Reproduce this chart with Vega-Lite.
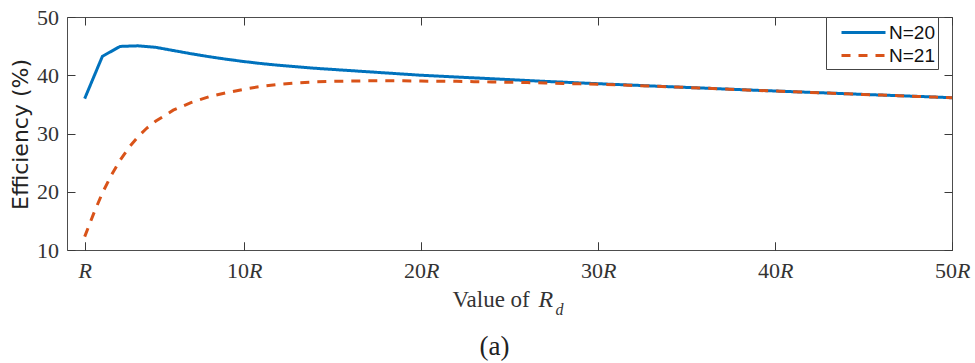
{
  "$schema": "https://vega.github.io/schema/vega-lite/v6.json",
  "width": 885,
  "height": 233,
  "autosize": "none",
  "padding": {"left": 67, "top": 17, "right": 23, "bottom": 113},
  "background": "white",
  "config": {
    "view": {"stroke": "#4d4d4d", "strokeWidth": 1},
    "axis": {"grid": false, "domain": false, "labelFlush": false, "labelOverlap": false, "labelBound": false, "tickColor": "#3a3a3a", "tickSize": -8, "tickWidth": 1}
  },
  "data": {"values": [
    {"x": 1, "series": "N=20", "eff": 36.0},
    {"x": 2, "series": "N=20", "eff": 43.25},
    {"x": 3, "series": "N=20", "eff": 44.95},
    {"x": 4, "series": "N=20", "eff": 45.05},
    {"x": 5, "series": "N=20", "eff": 44.8},
    {"x": 6, "series": "N=20", "eff": 44.25},
    {"x": 7, "series": "N=20", "eff": 43.7},
    {"x": 8, "series": "N=20", "eff": 43.2},
    {"x": 9, "series": "N=20", "eff": 42.75},
    {"x": 10, "series": "N=20", "eff": 42.35},
    {"x": 11, "series": "N=20", "eff": 42.0},
    {"x": 12, "series": "N=20", "eff": 41.7},
    {"x": 13, "series": "N=20", "eff": 41.45},
    {"x": 14, "series": "N=20", "eff": 41.2},
    {"x": 15, "series": "N=20", "eff": 41.0},
    {"x": 16, "series": "N=20", "eff": 40.8},
    {"x": 17, "series": "N=20", "eff": 40.6},
    {"x": 18, "series": "N=20", "eff": 40.4},
    {"x": 19, "series": "N=20", "eff": 40.2},
    {"x": 20, "series": "N=20", "eff": 40.0},
    {"x": 21, "series": "N=20", "eff": 39.85},
    {"x": 22, "series": "N=20", "eff": 39.7},
    {"x": 23, "series": "N=20", "eff": 39.55},
    {"x": 24, "series": "N=20", "eff": 39.4},
    {"x": 25, "series": "N=20", "eff": 39.25},
    {"x": 26, "series": "N=20", "eff": 39.1},
    {"x": 27, "series": "N=20", "eff": 38.95},
    {"x": 28, "series": "N=20", "eff": 38.82},
    {"x": 29, "series": "N=20", "eff": 38.68},
    {"x": 30, "series": "N=20", "eff": 38.55},
    {"x": 31, "series": "N=20", "eff": 38.42},
    {"x": 32, "series": "N=20", "eff": 38.3},
    {"x": 33, "series": "N=20", "eff": 38.16},
    {"x": 34, "series": "N=20", "eff": 38.04},
    {"x": 35, "series": "N=20", "eff": 37.91},
    {"x": 36, "series": "N=20", "eff": 37.79},
    {"x": 37, "series": "N=20", "eff": 37.66},
    {"x": 38, "series": "N=20", "eff": 37.54},
    {"x": 39, "series": "N=20", "eff": 37.41},
    {"x": 40, "series": "N=20", "eff": 37.3},
    {"x": 41, "series": "N=20", "eff": 37.18},
    {"x": 42, "series": "N=20", "eff": 37.06},
    {"x": 43, "series": "N=20", "eff": 36.95},
    {"x": 44, "series": "N=20", "eff": 36.83},
    {"x": 45, "series": "N=20", "eff": 36.71},
    {"x": 46, "series": "N=20", "eff": 36.6},
    {"x": 47, "series": "N=20", "eff": 36.49},
    {"x": 48, "series": "N=20", "eff": 36.38},
    {"x": 49, "series": "N=20", "eff": 36.26},
    {"x": 50, "series": "N=20", "eff": 36.14},
    {"x": 1, "series": "N=21", "eff": 12.3},
    {"x": 1.5, "series": "N=21", "eff": 16.2},
    {"x": 2, "series": "N=21", "eff": 19.8},
    {"x": 2.5, "series": "N=21", "eff": 22.8},
    {"x": 3, "series": "N=21", "eff": 25.4},
    {"x": 3.5, "series": "N=21", "eff": 27.6},
    {"x": 4, "series": "N=21", "eff": 29.4},
    {"x": 4.5, "series": "N=21", "eff": 30.9},
    {"x": 5, "series": "N=21", "eff": 32.1},
    {"x": 6, "series": "N=21", "eff": 34.0},
    {"x": 7, "series": "N=21", "eff": 35.3},
    {"x": 8, "series": "N=21", "eff": 36.3},
    {"x": 9, "series": "N=21", "eff": 37.0},
    {"x": 10, "series": "N=21", "eff": 37.6},
    {"x": 11, "series": "N=21", "eff": 38.1},
    {"x": 12, "series": "N=21", "eff": 38.45},
    {"x": 13, "series": "N=21", "eff": 38.7},
    {"x": 14, "series": "N=21", "eff": 38.85},
    {"x": 15, "series": "N=21", "eff": 38.95},
    {"x": 16, "series": "N=21", "eff": 39.0},
    {"x": 17, "series": "N=21", "eff": 39.05},
    {"x": 18, "series": "N=21", "eff": 39.05},
    {"x": 19, "series": "N=21", "eff": 39.05},
    {"x": 20, "series": "N=21", "eff": 39.0},
    {"x": 21, "series": "N=21", "eff": 38.97},
    {"x": 22, "series": "N=21", "eff": 38.95},
    {"x": 23, "series": "N=21", "eff": 38.9},
    {"x": 24, "series": "N=21", "eff": 38.85},
    {"x": 25, "series": "N=21", "eff": 38.8},
    {"x": 26, "series": "N=21", "eff": 38.74},
    {"x": 27, "series": "N=21", "eff": 38.67},
    {"x": 28, "series": "N=21", "eff": 38.6},
    {"x": 29, "series": "N=21", "eff": 38.52},
    {"x": 30, "series": "N=21", "eff": 38.44},
    {"x": 31, "series": "N=21", "eff": 38.35},
    {"x": 32, "series": "N=21", "eff": 38.25},
    {"x": 33, "series": "N=21", "eff": 38.13},
    {"x": 34, "series": "N=21", "eff": 38.02},
    {"x": 35, "series": "N=21", "eff": 37.9},
    {"x": 36, "series": "N=21", "eff": 37.78},
    {"x": 37, "series": "N=21", "eff": 37.65},
    {"x": 38, "series": "N=21", "eff": 37.53},
    {"x": 39, "series": "N=21", "eff": 37.4},
    {"x": 40, "series": "N=21", "eff": 37.29},
    {"x": 41, "series": "N=21", "eff": 37.17},
    {"x": 42, "series": "N=21", "eff": 37.05},
    {"x": 43, "series": "N=21", "eff": 36.94},
    {"x": 44, "series": "N=21", "eff": 36.82},
    {"x": 45, "series": "N=21", "eff": 36.7},
    {"x": 46, "series": "N=21", "eff": 36.59},
    {"x": 47, "series": "N=21", "eff": 36.48},
    {"x": 48, "series": "N=21", "eff": 36.37},
    {"x": 49, "series": "N=21", "eff": 36.25},
    {"x": 50, "series": "N=21", "eff": 36.13}
  ]},
  "layer": [
    {
      "mark": {"type": "line", "strokeWidth": 3, "clip": true},
      "encoding": {
        "x": {"field": "x", "type": "quantitative", "scale": {"domain": [0, 50], "nice": false, "zero": false},
          "axis": {"orient": "bottom", "values": [1, 10, 20, 30, 40, 50], "labelExpr": "datum.value == 1 ? '' : datum.label",
            "labelAlign": "right", "labelOffset": 4.5, "labelFont": "Liberation Serif", "labelFontSize": 22, "labelColor": "#333",
            "labelBaseline": "alphabetic", "labelPadding": 35,
            "title": "Value of", "titleFont": "Liberation Serif", "titleFontSize": 23, "titleFontWeight": "normal", "titleColor": "#333",
            "titleAlign": "left", "titleBaseline": "alphabetic", "titleX": 385, "titleY": 56}},
        "y": {"field": "eff", "type": "quantitative", "scale": {"domain": [10, 50], "nice": false, "zero": false},
          "axis": {"orient": "left", "values": [10, 20, 30, 40, 50], "labelFont": "Liberation Serif", "labelFontSize": 22, "labelColor": "#333",
            "labelAlign": "right", "labelBaseline": "alphabetic", "labelOffset": 7, "labelPadding": 16.5,
            "title": "Efficiency (%)", "titleFont": "DejaVu Sans", "titleFontSize": 22, "titleFontWeight": "normal", "titleColor": "#222",
            "titleX": -47, "titleY": 117, "titleAlign": "center", "titleBaseline": "middle", "titleAngle": 270}},
        "color": {"field": "series", "type": "nominal", "scale": {"domain": ["N=20", "N=21"], "range": ["#0072BD", "#D95319"]},
          "legend": {"orient": "none", "legendX": 759, "legendY": 0, "title": null, "strokeColor": "#444", "fillColor": "white",
            "padding": 3, "symbolType": "M0,0H4", "symbolSize": 484, "symbolStrokeWidth": 3, "labelFont": "Liberation Sans",
            "labelFontSize": 19, "labelColor": "#111", "labelOffset": 35, "labelExpr": "datum.label + '\u00a0\u00a0\u00a0'", "rowPadding": 0, "cornerRadius": 0}},
        "strokeDash": {"field": "series", "type": "nominal", "scale": {"domain": ["N=20", "N=21"], "range": [[1, 0], [9, 8]]}}
      }
    },
    {
      "mark": {"type": "point", "opacity": 0},
      "encoding": {
        "x": {"field": "x", "type": "quantitative",
          "axis": {"orient": "bottom", "values": [1, 10, 20, 30, 40, 50], "labelExpr": "'R'", "labelFontStyle": "italic",
            "labelAlign": {"condition": {"test": "datum.value == 1", "value": "center"}, "value": "left"},
            "labelOffset": {"condition": {"test": "datum.value == 1", "value": 0}, "value": 4.5},
            "labelFont": "Liberation Serif", "labelFontSize": 22, "labelColor": "#333", "labelBaseline": "alphabetic", "labelPadding": 35,
            "title": "R", "titleFont": "Liberation Serif", "titleFontStyle": "italic", "titleFontSize": 24, "titleFontWeight": "normal", "titleColor": "#333",
            "titleAlign": "left", "titleBaseline": "alphabetic", "titleX": 471, "titleY": 56}},
        "y": {"field": "eff", "type": "quantitative",
          "axis": {"orient": "right", "values": [10, 20, 30, 40, 50], "labels": false, "title": null}}
      }
    },
    {
      "mark": {"type": "point", "opacity": 0},
      "encoding": {
        "x": {"field": "x", "type": "quantitative",
          "axis": {"orient": "top", "values": [1, 10, 20, 30, 40, 50], "labels": false, "title": null}},
        "y": {"field": "eff", "type": "quantitative", "axis": null}
      }
    },
    {
      "mark": {"type": "point", "opacity": 0},
      "encoding": {
        "x": {"field": "x", "type": "quantitative",
          "axis": {"orient": "bottom", "labels": false, "ticks": false, "title": "d", "titleFont": "Liberation Serif", "titleFontStyle": "italic",
            "titleFontSize": 16, "titleFontWeight": "normal", "titleColor": "#333", "titleAlign": "left", "titleBaseline": "alphabetic", "titleX": 488, "titleY": 64}},
        "y": {"field": "eff", "type": "quantitative", "axis": null}
      }
    },
    {
      "mark": {"type": "point", "opacity": 0},
      "encoding": {
        "x": {"field": "x", "type": "quantitative",
          "axis": {"orient": "bottom", "labels": false, "ticks": false, "title": "(a)", "titleFont": "Liberation Serif",
            "titleFontSize": 27, "titleFontWeight": "normal", "titleColor": "#222", "titleAlign": "center", "titleBaseline": "alphabetic", "titleX": 427, "titleY": 104}},
        "y": {"field": "eff", "type": "quantitative", "axis": null}
      }
    }
  ],
  "resolve": {"axis": {"x": "independent", "y": "independent"}}
}
